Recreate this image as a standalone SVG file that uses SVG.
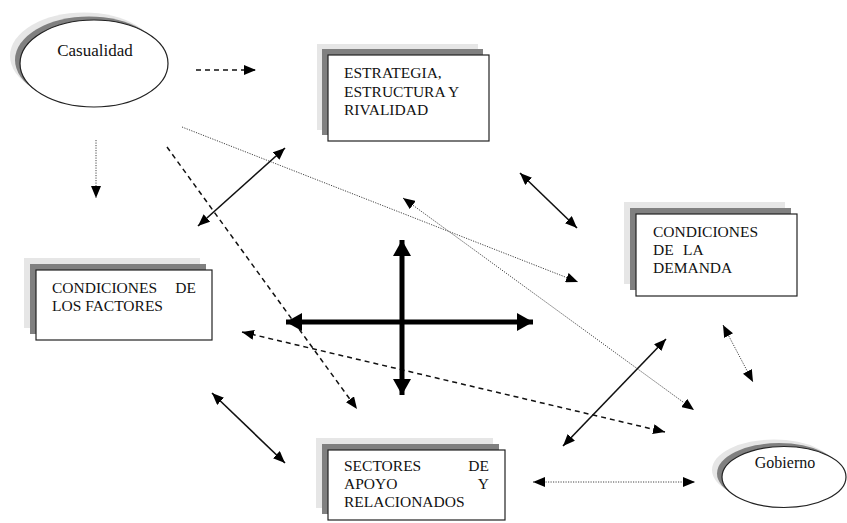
<svg xmlns="http://www.w3.org/2000/svg" width="847" height="523" viewBox="0 0 847 523">
<style>
  .lbl { font-family: "Liberation Serif", "Times New Roman", serif; font-size: 15.5px; fill: #111; }
  .front { fill: #fff; stroke: #222; stroke-width: 1.2; }
  .sh1 { fill: #e6e6e6; }
  .sh2 { fill: #808080; }
  .solid { stroke: #111; stroke-width: 1.6; fill: none; }
  .dash { stroke: #111; stroke-width: 1.5; stroke-dasharray: 5 4; fill: none; }
  .dot { stroke: #444; stroke-width: 1; stroke-dasharray: 1.2 1.3; fill: none; }
  .thick { stroke: #000; stroke-width: 5; fill: none; }
</style>
<defs>
  <marker id="ah" viewBox="0 0 12 10" refX="12" refY="5" markerWidth="12" markerHeight="10" markerUnits="userSpaceOnUse" orient="auto-start-reverse">
    <path d="M0,0 L12,5 L0,10 z" fill="#000"/>
  </marker>
  <marker id="ahb" viewBox="0 0 16 18" refX="16" refY="9" markerWidth="16" markerHeight="18" markerUnits="userSpaceOnUse" orient="auto-start-reverse">
    <path d="M0,0 L16,9 L0,18 z" fill="#000"/>
  </marker>
</defs>
<rect width="847" height="523" fill="#fff"/>

<g id="casualidad">
  <ellipse class="sh1" cx="84" cy="56" rx="74" ry="43.5"/>
  <ellipse class="sh2" cx="89" cy="60" rx="74" ry="43.5"/>
  <ellipse class="front" cx="94" cy="63.5" rx="74" ry="43.5"/>
  <text class="lbl" x="95" y="56" text-anchor="middle" style="font-size:17px">Casualidad</text>
</g>

<g id="estrategia">
  <rect class="sh1" x="317" y="44" width="161" height="86"/>
  <rect class="sh2" x="322" y="49" width="161" height="86"/>
  <rect class="front" x="328" y="55" width="161" height="86"/>
  <text class="lbl" x="344" y="78">ESTRATEGIA,</text>
  <text class="lbl" x="344" y="97">ESTRUCTURA Y</text>
  <text class="lbl" x="344" y="115">RIVALIDAD</text>
</g>

<g id="demanda">
  <rect class="sh1" x="624" y="202" width="161" height="82"/>
  <rect class="sh2" x="630" y="208" width="161" height="82"/>
  <rect class="front" x="636" y="214" width="161" height="82"/>
  <text class="lbl" x="653" y="237">CONDICIONES</text>
  <text class="lbl" x="653" y="255">DE</text>
  <text class="lbl" x="683" y="255">LA</text>
  <text class="lbl" x="653" y="273">DEMANDA</text>
</g>

<g id="factores">
  <rect class="sh1" x="24" y="258" width="176" height="70"/>
  <rect class="sh2" x="30" y="264" width="176" height="70"/>
  <rect class="front" x="36" y="270" width="176" height="70"/>
  <text class="lbl" x="52" y="293">CONDICIONES</text>
  <text class="lbl" x="196" y="293" text-anchor="end">DE</text>
  <text class="lbl" x="52" y="311">LOS FACTORES</text>
</g>

<g id="sectores">
  <rect class="sh1" x="316" y="438" width="177" height="70"/>
  <rect class="sh2" x="322" y="444" width="177" height="70"/>
  <rect class="front" x="328" y="450" width="177" height="70"/>
  <text class="lbl" x="344" y="471">SECTORES</text>
  <text class="lbl" x="489" y="471" text-anchor="end">DE</text>
  <text class="lbl" x="344" y="489">APOYO</text>
  <text class="lbl" x="489" y="489" text-anchor="end">Y</text>
  <text class="lbl" x="344" y="507">RELACIONADOS</text>
</g>

<g id="gobierno">
  <ellipse class="sh1" cx="774" cy="470" rx="62" ry="30.5"/>
  <ellipse class="sh2" cx="779" cy="473.5" rx="62" ry="30.5"/>
  <ellipse class="front" cx="784" cy="477" rx="62" ry="30.5"/>
  <text class="lbl" x="785" y="468" text-anchor="middle" style="font-size:16px">Gobierno</text>
</g>

<g id="connectors">
  <line class="dash" x1="196" y1="70" x2="256" y2="70" marker-end="url(#ah)"/>
  <line class="dot" x1="96" y1="140" x2="96" y2="198" marker-end="url(#ah)"/>
  <line class="dot" x1="182" y1="127" x2="578" y2="282" marker-end="url(#ah)"/>
  <line class="dash" x1="167" y1="147" x2="357" y2="409" marker-end="url(#ah)"/>
  <line class="solid" x1="198" y1="226" x2="285" y2="148" marker-start="url(#ah)" marker-end="url(#ah)"/>
  <line class="solid" x1="520" y1="173" x2="577" y2="228" marker-start="url(#ah)" marker-end="url(#ah)"/>
  <line class="dot" x1="403" y1="198" x2="694" y2="410" marker-start="url(#ah)" marker-end="url(#ah)"/>
  <line class="dash" x1="242" y1="332" x2="665" y2="432" marker-start="url(#ah)" marker-end="url(#ah)"/>
  <line class="solid" x1="212" y1="393" x2="285" y2="463" marker-start="url(#ah)" marker-end="url(#ah)"/>
  <line class="solid" x1="563" y1="446" x2="666" y2="339" marker-start="url(#ah)" marker-end="url(#ah)"/>
  <line class="dot" x1="723" y1="325" x2="753" y2="382" marker-start="url(#ah)" marker-end="url(#ah)"/>
  <line class="dot" x1="533" y1="482" x2="695" y2="482" marker-start="url(#ah)" marker-end="url(#ah)"/>
  <line class="thick" x1="286" y1="322" x2="533" y2="322" marker-start="url(#ahb)" marker-end="url(#ahb)"/>
  <line class="thick" x1="402" y1="240" x2="402" y2="395" marker-start="url(#ahb)" marker-end="url(#ahb)"/>
</g>
</svg>
